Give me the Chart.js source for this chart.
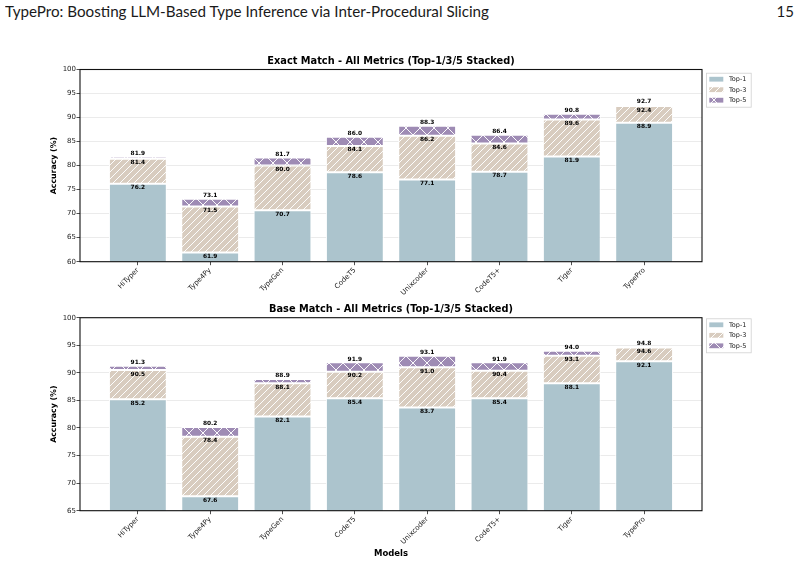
<!DOCTYPE html>
<html><head><meta charset="utf-8">
<script src="https://cdn.jsdelivr.net/npm/chart.js@4"></script>
<style>
html,body{margin:0;padding:0;background:#fff;width:801px;height:562px;overflow:hidden;}
#hdr{position:absolute;left:5px;top:2px;font-family:Lato,sans-serif;font-size:15px;color:#1a1a1a;white-space:nowrap;transform-origin:0 0;}
#pg{position:absolute;right:7px;top:2px;font-family:Lato,sans-serif;font-size:15px;color:#1a1a1a;}
.cv{position:absolute;left:0;}
</style></head><body>
<div id="hdr">TypePro: Boosting LLM-Based Type Inference via Inter-Procedural Slicing</div>
<div id="pg">15</div>
<canvas id="c1" class="cv" style="top:30px" width="801" height="270"></canvas>
<canvas id="c2" class="cv" style="top:300px" width="801" height="262"></canvas>
<script>
const models = ['HiTyper','Type4Py','TypeGen','CodeT5','Unixcoder','CodeT5+','Tiger','TypePro'];
const exactTop1 = [76.2, 61.9, 70.7, 78.6, 77.1, 78.7, 81.9, 88.9];
const exactTop3 = [81.4, 71.5, 80.0, 84.1, 86.2, 84.6, 89.6, 92.4];
const exactTop5 = [81.9, 73.1, 81.7, 86.0, 88.3, 86.4, 90.8, 92.7];
const baseTop1 = [85.2, 67.6, 82.1, 85.4, 83.7, 85.4, 88.1, 92.1];
const baseTop3 = [90.5, 78.4, 88.1, 90.2, 91.0, 90.4, 93.1, 94.6];
const baseTop5 = [91.3, 80.2, 88.9, 91.9, 93.1, 91.9, 94.0, 94.8];
const seriesNames = ['Top-1', 'Top-3', 'Top-5'];
const titles = ['Exact Match - All Metrics (Top-1/3/5 Stacked)', 'Base Match - All Metrics (Top-1/3/5 Stacked)'];

// header fit
const hdr = document.getElementById('hdr');
const hw = hdr.getBoundingClientRect().width;
hdr.style.transform = 'scaleX(' + (484 / hw) + ')';

const COL1 = '#acc4cd';
function makeHatch(bg, s, cross) {
  const c = document.createElement('canvas');
  c.width = s; c.height = s;
  const g = c.getContext('2d');
  g.fillStyle = bg; g.fillRect(0, 0, s, s);
  g.strokeStyle = 'rgba(255,255,255,0.95)';
  g.lineWidth = 1;
  g.beginPath();
  for (const k of [-s, 0, s]) {
    g.moveTo(k, s); g.lineTo(k + s, 0);
    if (cross) { g.moveTo(k, 0); g.lineTo(k + s, s); }
  }
  g.stroke();
  return g.createPattern(c, 'repeat');
}
const PAT3 = makeHatch('#d8ccbf', 7, false);
const PAT5 = makeHatch('#9e8bb4', 14, true);
const FILLS = [COL1, PAT3, PAT5];

const FONT = 'DejaVu Sans';

const decorPlugin = {
  id: 'decor',
  afterDatasetsDraw(chart, args, opts) {
    const ctx = chart.ctx, xs = chart.scales.x, ys = chart.scales.y;
    const {t1, t3, t5} = opts;
    ctx.save();
    ctx.font = 'bold 5.9px "' + FONT + '"';
    ctx.fillStyle = '#000';
    ctx.textAlign = 'center';
    for (let i = 0; i < t1.length; i++) {
      const x = xs.getPixelForValue(i);
      ctx.textBaseline = 'top';
      ctx.fillText(t1[i].toFixed(1), x, ys.getPixelForValue(t1[i]) + 1);
      ctx.fillText(t3[i].toFixed(1), x, ys.getPixelForValue(t3[i]) + 1);
      ctx.textBaseline = 'bottom';
      ctx.fillText(t5[i].toFixed(1), x, ys.getPixelForValue(t5[i]));
    }
    ctx.restore();
  },
  afterDraw(chart, args, opts) {
    const ctx = chart.ctx, a = chart.chartArea;
    ctx.save();
    // frame
    ctx.strokeStyle = '#111';
    ctx.lineWidth = 1.1;
    ctx.strokeRect(a.left, a.top, a.right - a.left, a.bottom - a.top);
    // title
    ctx.font = 'bold 9.8px "' + FONT + '"';
    ctx.fillStyle = '#000';
    ctx.textAlign = 'center';
    ctx.textBaseline = 'middle';
    ctx.fillText(opts.title, (a.left + a.right) / 2, a.top - 7.8);
    // legend
    const bx = a.right + 4, by = a.top + opts.legOff, bw = 44.7, bh = 34;
    ctx.fillStyle = 'rgba(255,255,255,0.9)';
    ctx.fillRect(bx, by, bw, bh);
    ctx.strokeStyle = '#d0d0d0';
    ctx.lineWidth = 0.8;
    ctx.strokeRect(bx + 0.5, by + 0.5, bw, bh);
    ctx.font = '6.5px "' + FONT + '"';
    ctx.textAlign = 'left';
    chart.data.datasets.forEach((ds, k) => {
      const cy = by + 6.5 + k * 10.5;
      ctx.fillStyle = ds.backgroundColor;
      ctx.fillRect(bx + 3.3, cy - 2.4, 14, 4.8);
      ctx.fillStyle = '#222';
      ctx.fillText(ds.label, bx + 23, cy + 0.5);
    });
    ctx.restore();
  }
};

function makeChart(id, t1, t3, t5, cfg) {
  const idx = t1.map((_, i) => i);
  const common = {borderColor: '#ffffff', borderWidth: 1, borderSkipped: false, grouped: false, categoryPercentage: 1, barPercentage: 0.8};
  return new Chart(document.getElementById(id), {
    type: 'bar',
    data: {
      datasets: [
        Object.assign({label: seriesNames[0], data: idx.map(i => ({x: i, y: t1[i]})), backgroundColor: FILLS[0]}, common),
        Object.assign({label: seriesNames[1], data: idx.map(i => ({x: i, y: [t1[i], t3[i]]})), backgroundColor: FILLS[1]}, common),
        Object.assign({label: seriesNames[2], data: idx.map(i => ({x: i, y: [t3[i], t5[i]]})), backgroundColor: FILLS[2]}, common)
      ]
    },
    options: {
      responsive: false,
      animation: false,
      layout: {padding: {left: 0, right: 99, top: cfg.padTop, bottom: 0}},
      plugins: {
        legend: {display: false},
        tooltip: {enabled: false},
        decor: {t1, t3, t5, title: cfg.title, legOff: cfg.legOff}
      },
      scales: {
        x: {
          type: 'linear', min: -0.8, max: 7.8, offset: false,
          afterBuildTicks: s => { s.ticks = models.map((_, i) => ({value: i})); },
          afterFit: s => { s.height = cfg.xh; },
          grid: {display: true, drawOnChartArea: false, drawTicks: true, tickLength: 3.5, tickColor: '#222', tickWidth: 0.8, offset: false},
          border: {display: false},
          ticks: {autoSkip: false, minRotation: 45, maxRotation: 45, padding: 1, color: '#222',
                  font: {family: FONT, size: 7}, callback: v => (models[v] !== undefined ? models[v] : '')},
          title: {display: cfg.xTitle, text: 'Models', color: '#000', font: {family: FONT, size: 8.5, weight: 'bold'}, padding: {top: 0, bottom: 3.5}}
        },
        y: {
          min: cfg.ymin, max: 100,
          afterFit: s => { s.width = 80; },
          ticks: {stepSize: 5, padding: 0.5, color: '#222', font: {family: FONT, size: 7}},
          grid: {color: '#e6e6e6', lineWidth: 0.8, tickColor: '#222', tickLength: 3.5, tickWidth: 0.8},
          border: {display: false},
          title: {display: true, text: 'Accuracy (%)', color: '#000', font: {family: FONT, size: 7.8, weight: 'bold'}, padding: {top: 49.5, bottom: 0}}
        }
      }
    },
    plugins: [decorPlugin]
  });
}

makeChart('c1', exactTop1, exactTop3, exactTop5, {padTop: 39.5, xh: 38.3, ymin: 60, xTitle: false, title: titles[0], legOff: 3.2});
makeChart('c2', baseTop1, baseTop3, baseTop5, {padTop: 17.7, xh: 51.3, ymin: 65, xTitle: true, title: titles[1], legOff: 0.6});
</script>
</body></html>
